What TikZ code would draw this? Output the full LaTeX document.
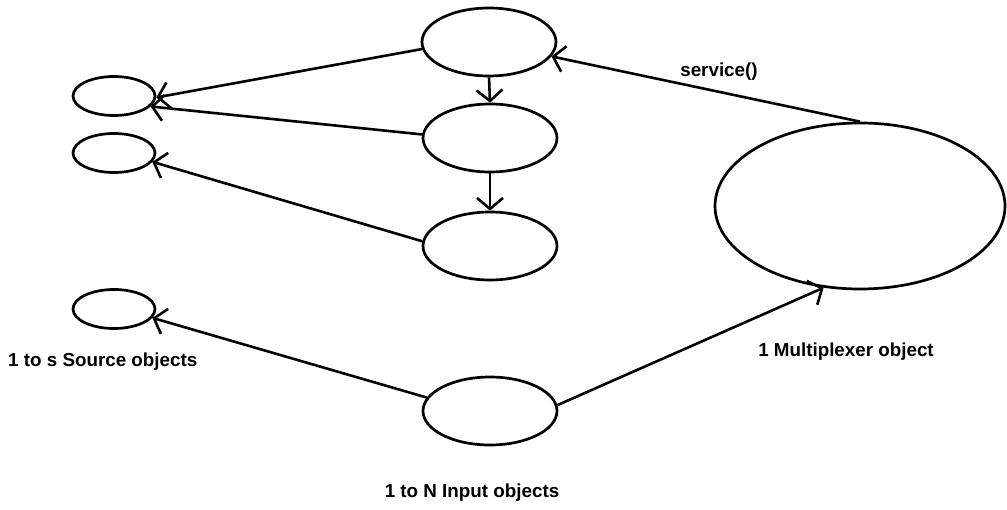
\documentclass[tikz,border=0pt]{standalone}
\usepackage{fontspec}
\setmainfont{Liberation Sans}
\usetikzlibrary{shapes.geometric,arrows.meta}

\tikzset{
  obj/.style={ellipse, draw, line width=2.7pt, inner sep=0pt},
  bigobj/.style={obj, minimum width=134pt, minimum height=68pt},
  smallobj/.style={obj, minimum width=82pt, minimum height=39pt},
  link/.style={line width=2.6pt, -{Straight Barb[length=11pt, width=26pt, line width=2.6pt]}},
  lbl/.style={font=\fontsize{18.8}{21}\selectfont\bfseries, inner sep=0pt}
}

\begin{document}
\begin{tikzpicture}[x=1pt, y=-1pt]
  \useasboundingbox (0,0) rectangle (1007,510);

  % source objects
  \node[smallobj] (s1) at (114,96) {};
  \node[smallobj] (s2) at (114,153) {};
  \node[smallobj] (s3) at (114,309) {};

  % input objects
  \node[bigobj] (i1) at (489,42) {};
  \node[bigobj] (i2) at (490,138) {};
  \node[bigobj] (i3) at (490,246) {};
  \node[bigobj] (i4) at (490,411) {};

  % multiplexer
  \node[obj, minimum width=290pt, minimum height=166pt] (mux) at (860,206) {};

  % labels
  \node[lbl, anchor=west] (ls) at (8,362) {1 to s Source objects};
  \node[lbl] (li) at (472,493) {1 to N Input objects};
  \node[lbl] (lm) at (846,352) {1 Multiplexer object};
  \node[lbl] (lsv) at (719,72) {service()};

  % connectors
  \draw[link] (i1.186) -- (s1.-2);
  \draw[link] (i2.177) -- (s1.-16);
  \draw[link] (i3.176) -- (s2.-13);
  \draw[link] (i4.168) -- (s3.-13);
  \draw[link] (i1.south) -- (i2.north);
  \draw[link] (i2.south) -- (i3.north);
  \draw[link] (mux.north) -- (i1.-13);
  \draw[link] (i4.5) -- (mux.-114);
\end{tikzpicture}
\end{document}
